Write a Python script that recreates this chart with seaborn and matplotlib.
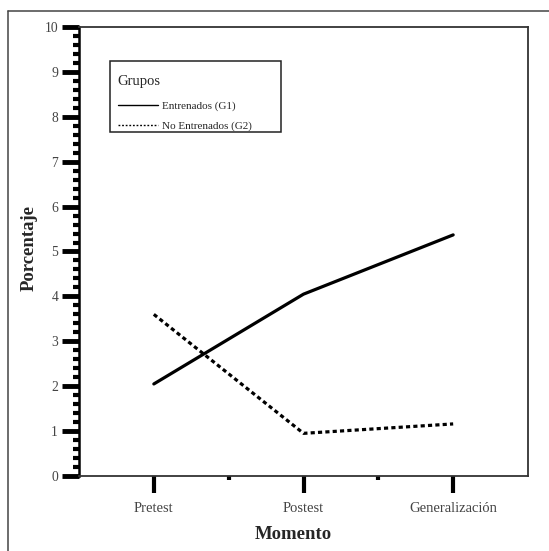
import pandas as pd
import seaborn as sns
import matplotlib.pyplot as plt
from matplotlib.lines import Line2D
from matplotlib.patches import Rectangle
from matplotlib.ticker import FixedLocator, MultipleLocator

# values
momentos = ["Pretest", "Postest", "Generalización"]
entrenados = [2.05, 4.05, 5.37]
no_entrenados = [3.6, 0.95, 1.16]
grupos = ["Entrenados (G1)", "No Entrenados (G2)"]

df = pd.DataFrame({
    "Momento": momentos * 2,
    "Porcentaje": entrenados + no_entrenados,
    "Grupo": [grupos[0]] * 3 + [grupos[1]] * 3,
})

sns.set_theme(style="white")
plt.rcParams["font.family"] = ["Liberation Serif", "DejaVu Serif"]

W, H = 549, 551
fig = plt.figure(figsize=(W / 100, H / 100), dpi=100)
# axes box in pixels: left 79, right 528, top 27, bottom 476
ax = fig.add_axes([79 / W, 1 - 476 / H, 449 / W, 449 / H])

sns.lineplot(data=df, x="Momento", y="Porcentaje", hue="Grupo",
             style="Grupo", palette=["black", "black"],
             dashes={grupos[0]: "", grupos[1]: (1.3, 1.0)},
             linewidth=2.3, sort=False, legend=False, ax=ax)

ax.set_xlim(-0.5, 2.5)
ax.set_ylim(0, 10)
ax.set_yticks(range(0, 11))
ax.yaxis.set_minor_locator(MultipleLocator(0.2))
ax.xaxis.set_minor_locator(FixedLocator([0.5, 1.5]))

ax.tick_params(axis="y", which="major", direction="out", length=12,
               width=3.5, color="black", labelsize=9.8, labelcolor="#444",
               pad=3, left=True)
ax.tick_params(axis="y", which="minor", direction="out", length=4,
               width=3, color="black", left=True)
ax.tick_params(axis="x", which="major", direction="out", length=12.5,
               width=3, color="black", labelsize=10.5, labelcolor="#444",
               pad=6, bottom=True)
ax.tick_params(axis="x", which="minor", direction="out", length=3,
               width=3, color="black", bottom=True)

for side in ["top", "right", "bottom"]:
    ax.spines[side].set_color("#333")
    ax.spines[side].set_linewidth(1.3)
ax.spines["left"].set_color("black")
ax.spines["left"].set_linewidth(1.8)

ax.set_xlabel("Momento", fontsize=13.5, fontweight="bold")
ax.set_ylabel("Porcentaje", fontsize=13.5, fontweight="bold")
ax.xaxis.set_label_coords(0.477, -0.112)
ax.yaxis.set_label_coords(-0.092, 0.508)

# legend with thin handles, framed by a separate box
handles = [Line2D([], [], color="black", lw=1.0),
           Line2D([], [], color="black", lw=1.0, linestyle=(0, (1.3, 1.3)))]
leg = ax.legend(handles, grupos, title="Grupos", loc="upper left",
                bbox_to_anchor=((112 - 79) / 449, (476 - 69) / 449),
                borderpad=0, frameon=False, alignment="left",
                handlelength=3.6, handletextpad=0.4, labelspacing=0.85,
                prop={"size": 8}, title_fontsize=10.5)
leg._legend_box.sep = 10
ax.add_patch(Rectangle(((110 - 79) / 449, (476 - 132) / 449),
                       171 / 449, 71 / 449, transform=ax.transAxes,
                       fill=False, edgecolor="#222", linewidth=1.1,
                       zorder=5))

# outer frame, open at right and bottom
fig.add_artist(Line2D([8 / W, 8 / W], [0, 1 - 11 / H],
                      transform=fig.transFigure, color="#444", lw=1.1))
fig.add_artist(Line2D([8 / W, 1], [1 - 11 / H, 1 - 11 / H],
                      transform=fig.transFigure, color="#444", lw=1.1))

fig.savefig("out.png", dpi=100)
